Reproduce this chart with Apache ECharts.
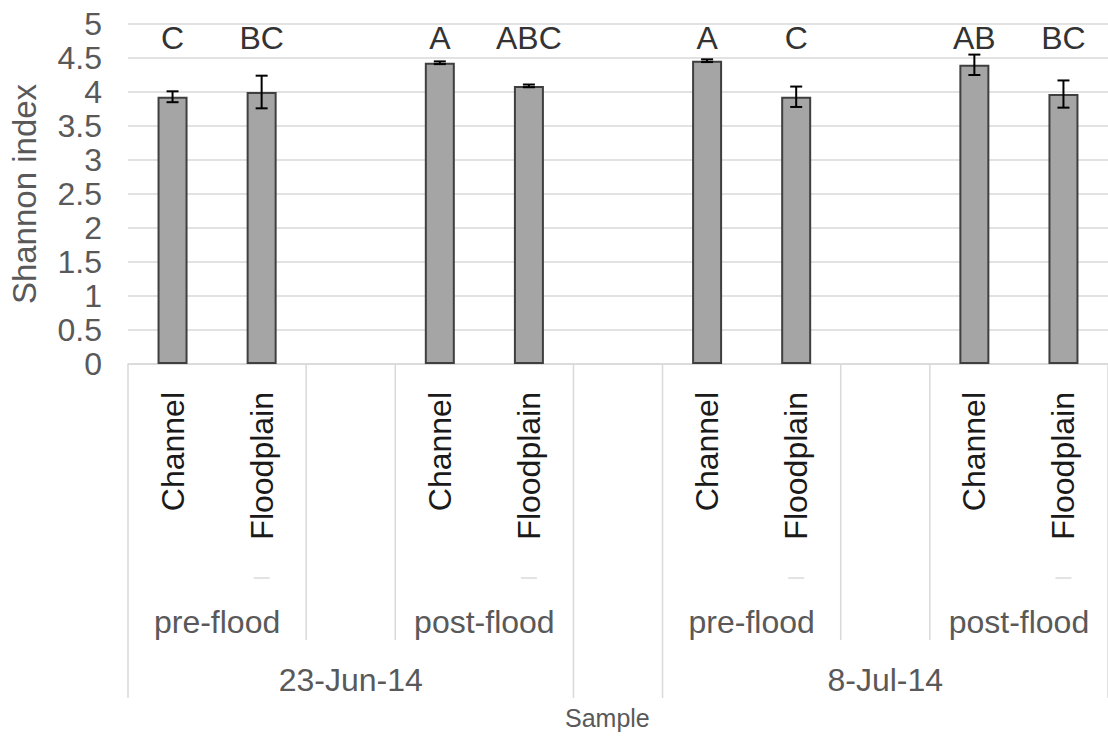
<!DOCTYPE html>
<html>
<head>
<meta charset="utf-8">
<script src="https://cdn.jsdelivr.net/npm/echarts@6/dist/echarts.min.js"></script>
<style>
  html, body { margin: 0; padding: 0; background: #fff; }
  #chart { width: 1108px; height: 738px; }
</style>
</head>
<body>
<div id="chart"></div>
<script>
// Shannon diversity per sample, with hierarchical category labels.
const categories = ['Channel', 'Floodplain', '', 'Channel', 'Floodplain', '', 'Channel', 'Floodplain', '', 'Channel', 'Floodplain'];
const shannon    = [3.93, 4.00, null, 4.43, 4.09, null, 4.46, 3.93, null, 4.40, 3.97];
const stdError   = [0.08, 0.24, null, 0.02, 0.02, null, 0.02, 0.15, null, 0.15, 0.20];
const letters    = ['C', 'BC', '', 'A', 'ABC', '', 'A', 'C', '', 'AB', 'BC'];
const letterLevel = 4.79;

// Second and third label rows: names and how many slots each spans.
const floodLabels = ['pre-flood', '', 'post-flood', '', 'pre-flood', '', 'post-flood'];
const floodSpans  = [2, 1, 2, 1, 2, 1, 2];
const dateLabels  = ['23-Jun-14', '', '8-Jul-14'];
const dateSpans   = [5, 1, 5];

const yTicks = { min: 0, max: 5, interval: 0.5 };

const FONT = "'Liberation Sans', Arial, sans-serif";
const GRID_COLOR = '#d9d9d9';
const TEXT_COLOR = '#595959';

// turn spans into [from, to, label] cells
function cells(labels, spans) {
  const out = [];
  let start = 0;
  spans.forEach((s, i) => { out.push([start, start + s - 1, labels[i]]); start += s; });
  return out;
}
const floodCells = cells(floodLabels, floodSpans);
const dateCells = cells(dateLabels, dateSpans);

// Cell edges: row 3 edges are tall, row 2 edges are short
const dateEdges = new Set([0]);
dateCells.forEach(c => dateEdges.add(c[1] + 1));
const floodEdges = new Set([0]);
floodCells.forEach(c => floodEdges.add(c[1] + 1));
const edgeData = [];
dateEdges.forEach(e => edgeData.push([e, 3]));
floodEdges.forEach(e => { if (!dateEdges.has(e)) edgeData.push([e, 2]); });

const n = categories.length;
function slotEdgeX(api, b) {
  const band = api.size([1, 0])[0];
  if (b >= n) return api.coord([n - 1, 0])[0] + band / 2;
  return api.coord([b, 0])[0] - band / 2;
}

const barData = shannon.map(v => v);
const errData = [];
shannon.forEach((v, i) => { if (v !== null) errData.push([i, v, stdError[i]]); });
const letterData = [];
letters.forEach((t, i) => { if (t) letterData.push([i, letterLevel, t]); });
const dashData = [];
categories.forEach((c, i) => { if (c === 'Floodplain') dashData.push([i, 0]); });

const chart = echarts.init(document.getElementById('chart'), null, { renderer: 'svg' });

chart.setOption({
  animation: false,
  backgroundColor: '#ffffff',
  grid: { left: 125, top: 24, width: 988, height: 340, containLabel: false },
  xAxis: {
    type: 'category',
    data: categories,
    axisLine: { show: true, lineStyle: { color: GRID_COLOR, width: 1.5 } },
    axisTick: { show: false },
    axisLabel: {
      rotate: 90, margin: 28, interval: 0,
      fontFamily: FONT, fontSize: 32, color: '#1a1a1a'
    },
    splitLine: { show: false }
  },
  yAxis: {
    type: 'value',
    min: yTicks.min, max: yTicks.max, interval: yTicks.interval,
    name: 'Shannon index',
    nameLocation: 'middle',
    nameGap: 87,
    nameTextStyle: { fontFamily: FONT, fontSize: 33, color: TEXT_COLOR },
    axisLine: { show: false },
    axisTick: { show: false },
    axisLabel: { margin: 26, fontFamily: FONT, fontSize: 32, color: TEXT_COLOR },
    splitLine: { lineStyle: { color: GRID_COLOR, width: 1.5 } }
  },
  graphic: [{
    type: 'text', left: 565, top: 705,
    style: { text: 'Sample', font: "25px 'Liberation Sans', Arial, sans-serif", fill: TEXT_COLOR }
  }],
  series: [
    {
      name: 'Shannon index',
      type: 'bar',
      data: barData,
      barWidth: 30,
      itemStyle: { color: '#a5a5a5', borderColor: '#3f3f3f', borderWidth: 2 },
      z: 2
    },
    {
      // standard error whiskers
      type: 'custom',
      data: errData,
      z: 5,
      renderItem: function (params, api) {
        const i = api.value(0), v = api.value(1), e = api.value(2);
        const top = api.coord([i, v + e]);
        const bot = api.coord([i, v - e]);
        const cap = 6;
        const style = { stroke: '#000', lineWidth: 2 };
        return {
          type: 'group',
          children: [
            { type: 'line', shape: { x1: top[0], y1: top[1], x2: bot[0], y2: bot[1] }, style },
            { type: 'line', shape: { x1: top[0] - cap, y1: top[1], x2: top[0] + cap, y2: top[1] }, style },
            { type: 'line', shape: { x1: bot[0] - cap, y1: bot[1], x2: bot[0] + cap, y2: bot[1] }, style }
          ]
        };
      }
    },
    {
      // significance letters
      type: 'custom',
      data: letterData,
      z: 6,
      renderItem: function (params, api) {
        const p = api.coord([api.value(0), api.value(1)]);
        return {
          type: 'text',
          style: {
            text: letters[api.value(0)], x: p[0], y: p[1],
            align: 'center', verticalAlign: 'middle',
            font: "32px 'Liberation Sans', Arial, sans-serif", fill: '#333333'
          }
        };
      }
    },
    {
      // cell edges of the label rows
      type: 'custom',
      data: edgeData,
      clip: false,
      silent: true,
      renderItem: function (params, api) {
        const b = api.value(0), depth = api.value(1);
        const x = slotEdgeX(api, b);
        const y0 = api.coord([0, 0])[1];
        const len = depth === 3 ? 334 : 276;
        return {
          type: 'line',
          shape: { x1: x, y1: y0, x2: x, y2: y0 + len },
          style: { stroke: GRID_COLOR, lineWidth: 1.5 }
        };
      }
    },
    {
      // small marks below the Floodplain labels
      type: 'custom',
      data: dashData,
      clip: false,
      silent: true,
      renderItem: function (params, api) {
        const p = api.coord([api.value(0), 0]);
        return {
          type: 'line',
          shape: { x1: p[0] - 8, y1: p[1] + 214, x2: p[0] + 8, y2: p[1] + 214 },
          style: { stroke: '#e3e3e3', lineWidth: 2 }
        };
      }
    },
    {
      // flood-stage row
      type: 'custom',
      data: floodCells.map((c, i) => [c[0], c[1], i]),
      clip: false,
      silent: true,
      renderItem: function (params, api) {
        const a = slotEdgeX(api, api.value(0)), b = slotEdgeX(api, api.value(1) + 1);
        const y0 = api.coord([0, 0])[1];
        return {
          type: 'text',
          style: {
            text: floodLabels[api.value(2)], x: (a + b) / 2, y: y0 + 258,
            align: 'center', verticalAlign: 'middle',
            font: "32px 'Liberation Sans', Arial, sans-serif", fill: TEXT_COLOR
          }
        };
      }
    },
    {
      // sampling date row
      type: 'custom',
      data: dateCells.map((c, i) => [c[0], c[1], i]),
      clip: false,
      silent: true,
      renderItem: function (params, api) {
        const a = slotEdgeX(api, api.value(0)), b = slotEdgeX(api, api.value(1) + 1);
        const y0 = api.coord([0, 0])[1];
        return {
          type: 'text',
          style: {
            text: dateLabels[api.value(2)], x: (a + b) / 2, y: y0 + 316,
            align: 'center', verticalAlign: 'middle',
            font: "32px 'Liberation Sans', Arial, sans-serif", fill: TEXT_COLOR
          }
        };
      }
    }
  ]
});
</script>
</body>
</html>
